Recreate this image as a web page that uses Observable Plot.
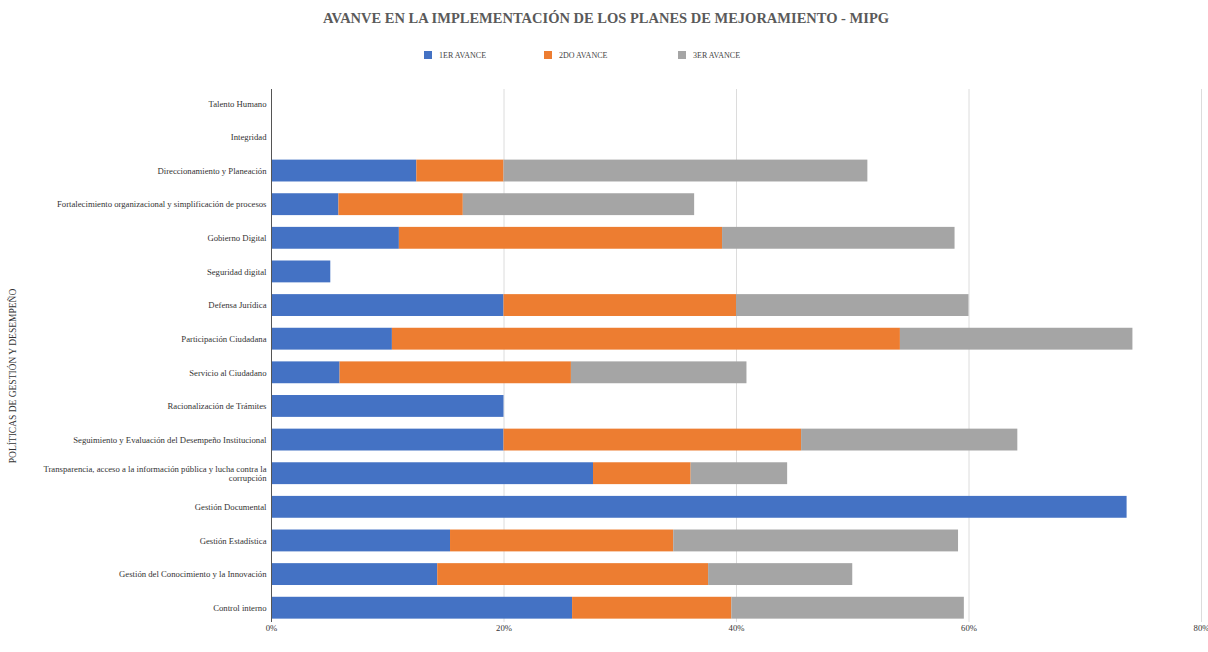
<!DOCTYPE html>
<html>
<head>
<meta charset="utf-8">
<script src="https://cdn.jsdelivr.net/npm/d3@7"></script>
<script src="https://cdn.jsdelivr.net/npm/@observablehq/plot@0.6"></script>
<style>
  body { margin: 0; background: #fff; font-family: "Liberation Serif", serif; }
  #wrap { width: 1208px; height: 652px; position: relative; overflow: hidden; }
  #title { height: 36px; line-height: 36px; text-align: center; font-weight: bold; font-size: 14.5px; color: #5a5a5a; padding-left: 4px; }
  #legend { height: 38px; display: flex; align-items: center; padding-left: 424px; font-size: 8px; color: #444; }
  .item { display: flex; align-items: center; }
  .sw { width: 8px; height: 8px; margin-right: 7px; }
</style>
</head>
<body>
<div id="wrap">
  <div id="title"></div>
  <div id="legend"></div>
  <div id="chart"></div>
</div>
<script>
const chartTitle = "AVANVE EN LA IMPLEMENTACIÓN DE LOS PLANES DE MEJORAMIENTO - MIPG";
const yTitle = "POLÍTICAS DE GESTIÓN Y DESEMPEÑO";
const categories = [
  "Talento Humano",
  "Integridad",
  "Direccionamiento y Planeación",
  "Fortalecimiento organizacional y simplificación de procesos",
  "Gobierno Digital",
  "Seguridad digital",
  "Defensa Jurídica",
  "Participación Ciudadana",
  "Servicio al Ciudadano",
  "Racionalización de Trámites",
  "Seguimiento y Evaluación del Desempeño Institucional",
  "Transparencia, acceso a la información pública y lucha contra la corrupción",
  "Gestión Documental",
  "Gestión Estadística",
  "Gestión del Conocimiento y la Innovación",
  "Control interno"
];
const seriesNames = ["1ER AVANCE", "2DO AVANCE", "3ER AVANCE"];
const seriesColors = ["#4472C4", "#ED7D31", "#A5A5A5"];
const avance1 = [0, 0, 12.5, 5.8, 11.0, 5.1, 20.0, 10.4, 5.9, 20.0, 20.0, 27.7, 73.6, 15.4, 14.3, 25.9];
const avance2 = [0, 0, 7.5, 10.7, 27.8, 0, 20.0, 43.7, 19.9, 0, 25.6, 8.4, 0, 19.2, 23.3, 13.7];
const avance3 = [0, 0, 31.3, 19.9, 20.0, 0, 20.0, 20.0, 15.1, 0, 18.6, 8.3, 0, 24.5, 12.4, 20.0];
const xTicks = [0, 20, 40, 60, 80];

const allSeries = [avance1, avance2, avance3];
const data = [];
categories.forEach((c, i) => {
  allSeries.forEach((s, j) => data.push({cat: c, serie: seriesNames[j], value: s[i]}));
});

document.getElementById("title").textContent = chartTitle;
const legend = document.getElementById("legend");
const itemWidths = [120, 134, 100];
seriesNames.forEach((n, i) => {
  const it = document.createElement("div");
  it.className = "item";
  it.style.width = itemWidths[i] + "px";
  const sw = document.createElement("span");
  sw.className = "sw";
  sw.style.background = seriesColors[i];
  const tx = document.createElement("span");
  tx.textContent = n;
  it.appendChild(sw); it.appendChild(tx);
  legend.appendChild(it);
});

const wrapLabel = d => d.startsWith("Transparencia") ? "Transparencia, acceso a la información pública y lucha contra la\ncorrupción" : d;

const plot = Plot.plot({
  width: 1208,
  height: 578,
  marginLeft: 271,
  marginRight: 7,
  marginTop: 15,
  marginBottom: 30,
  style: {fontFamily: "Liberation Serif, serif", fontSize: "8.7px", color: "#333", background: "#fff"},
  x: {domain: [0, 80], ticks: xTicks, tickFormat: d => d + "%", tickSize: 0, tickPadding: 2, label: null},
  y: {domain: categories, paddingInner: 0.35, paddingOuter: 0.1, round: false, tickSize: 0, tickPadding: 5, tickFormat: wrapLabel, label: null},
  color: {domain: seriesNames, range: seriesColors},
  marks: [
    Plot.ruleX(xTicks.slice(1), {stroke: "#dcdcdc", strokeWidth: 1}),
    Plot.barX(data, {x: "value", y: "cat", fill: "serie", order: seriesNames, inset: 0}),
    Plot.ruleX([0], {stroke: "#555", strokeWidth: 1}),
    Plot.text([yTitle], {frameAnchor: "left", textAnchor: "middle", rotate: -90, dx: -259, dy: 20, fontSize: 9.5, fill: "#333"})
  ]
});
document.getElementById("chart").appendChild(plot);
</script>
</body>
</html>
